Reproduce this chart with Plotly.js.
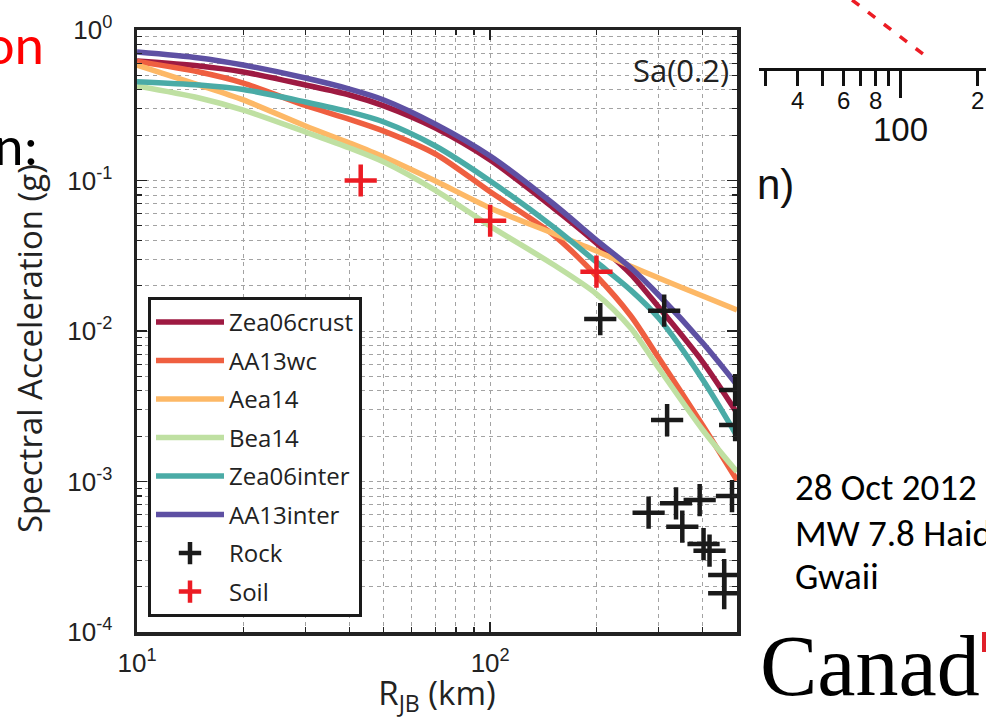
<!DOCTYPE html>
<html>
<head>
<meta charset="utf-8">
<script src="https://cdn.plot.ly/plotly-3.0.1.min.js"></script>
<style>
  html, body { margin: 0; padding: 0; background: #ffffff; }
  #chart { width: 986px; height: 719px; }
</style>
</head>
<body>
<div id="chart"></div>
<script>
// ---------------- data ----------------
const distanceKm = [10, 15, 20, 30, 40, 50, 70, 100, 150, 200, 250, 300, 400, 500];

const zea06crust = [0.622, 0.576, 0.526, 0.431, 0.370, 0.313, 0.223, 0.1369, 0.0667, 0.0384, 0.0239, 0.01443, 0.00622, 0.00285];
const aa13wc     = [0.6176, 0.526, 0.4444, 0.315, 0.255, 0.213, 0.150, 0.0841, 0.0441, 0.0232, 0.01263, 0.00663, 0.00236, 0.00102];
const aea14      = [0.585, 0.431, 0.343, 0.2302, 0.1774, 0.1432, 0.0992, 0.0657, 0.0448, 0.0340, 0.0269, 0.0225, 0.01708, 0.01379];
const bea14      = [0.4245, 0.3533, 0.2940, 0.2101, 0.1644, 0.1327, 0.0860, 0.0498, 0.02787, 0.01761, 0.01047, 0.00568, 0.00220, 0.00116];
const zea06inter = [0.4533, 0.431, 0.4025, 0.3323, 0.2852, 0.2447, 0.1695, 0.0992, 0.0498, 0.02874, 0.0187, 0.0122, 0.00475, 0.002006];
const aa13inter  = [0.714, 0.652, 0.585, 0.480, 0.405, 0.343, 0.237, 0.1455, 0.0709, 0.0402, 0.0263, 0.01735, 0.00832, 0.00438];

const rockKm = [205, 311, 317, 494, 494, 281, 336, 392, 484, 350, 402, 418, 460, 460];
const rockSa = [0.0120, 0.01364, 0.00256, 0.00405, 0.00237, 0.000621, 0.000716, 0.000753, 0.000800, 0.000501, 0.000384, 0.000347, 0.000239, 0.000181];

const soilKm = [43, 100, 200];
const soilSa = [0.100, 0.054, 0.0248];

const modelNames = ["Zea06crust", "AA13wc", "Aea14", "Bea14", "Zea06inter", "AA13inter"];
const modelColors = ["#9e1a42", "#ef5f40", "#fdb866", "#bfe0a2", "#4aaba6", "#5e50a3"];

const yTickVals = [1e-4, 1e-3, 1e-2, 1e-1, 1];
const yTickText = ["10<sup>-4</sup>", "10<sup>-3</sup>", "10<sup>-2</sup>", "10<sup>-1</sup>", "10<sup>0</sup>"];
const xTickVals = [10, 100];
const xTickText = ["10<sup>1</sup>", "10<sup>2</sup>"];

// fragment of the neighbouring chart (top right of the slide)
const otherAxisMinorTicks = [30, 40, 50, 60, 70, 80, 90, 200];
const otherAxisMajorTicks = [100];
const otherAxisLabels = ["4", "6", "8", "2"];
const otherAxisLabelPos = [40, 60, 80, 200];
const otherLineX = [65, 129];
const otherLineY = [1.0, 0.14];

// ---------------- helpers ----------------
const W = 986, H = 719;
const PX = x => x / W;
const PY = y => 1 - y / H;

const yMinor = [];
for (let d = -4; d < 0; d++) for (let m = 2; m <= 9; m++) yMinor.push(m * Math.pow(10, d));
const xMinor = [20, 30, 40, 50, 60, 70, 80, 90, 200, 300, 400];

const series = [zea06crust, aa13wc, aea14, bea14, zea06inter, aa13inter];

const traces = series.map((vals, i) => ({
  type: "scatter",
  mode: "lines",
  x: distanceKm,
  y: vals,
  name: modelNames[i],
  legendgroup: modelNames[i],
  line: { color: modelColors[i], width: 5.5, shape: "spline", smoothing: 0.8 },
  xaxis: "x", yaxis: "y"
}));

traces.push({
  type: "scatter", mode: "markers", x: rockKm, y: rockSa, name: "Rock", legendgroup: "Rock",
  marker: { symbol: "cross-thin", size: 23, color: "#1a1a1a", line: { color: "#1a1a1a", width: 4.5 } },
  cliponaxis: true
});
traces.push({
  type: "scatter", mode: "markers", x: soilKm, y: soilSa, name: "Soil", legendgroup: "Soil",
  marker: { symbol: "cross-thin", size: 23, color: "#ec1c24", line: { color: "#ec1c24", width: 4.5 } },
  cliponaxis: true
});
traces.push({
  type: "scatter", mode: "lines", x: otherLineX, y: otherLineY, xaxis: "x2", yaxis: "y2",
  showlegend: false, hoverinfo: "skip",
  line: { color: "#ec1c24", width: 3.5, dash: "9px,11px" }
});

const gridCol = "#a3a3a3";
const axisCol = "#222222";
const tickFont = { family: "Liberation Sans, Arial, sans-serif", size: 26, color: "#222" };
const slideFont = "Carlito, 'Liberation Sans Narrow', 'Liberation Sans', sans-serif";

const layout = {
  width: W, height: H,
  margin: { l: 0, r: 0, t: 0, b: 0, pad: 0 },
  paper_bgcolor: "#ffffff",
  plot_bgcolor: "#ffffff",
  showlegend: true,
  xaxis: {
    type: "log", range: [1, Math.log10(500)], domain: [PX(137), PX(737)],
    anchor: "y", automargin: false,
    tickmode: "array", tickvals: xTickVals, ticktext: xTickText,
    ticks: "inside", ticklen: 10, tickwidth: 1.5, tickcolor: axisCol,
    showline: true, linecolor: axisCol, linewidth: 3.5, mirror: "allticks",
    showgrid: true, gridcolor: gridCol, gridwidth: 1, griddash: "4px,4px",
    zeroline: false, ticklabelstandoff: 5,
    tickfont: tickFont,
    minor: { tickvals: xMinor, ticks: "inside", ticklen: 5, tickwidth: 1.2, tickcolor: axisCol,
             showgrid: true, gridcolor: gridCol, gridwidth: 1, griddash: "4px,4px" },
    title: { text: "R<sub>JB</sub> (km)", font: { family: "Open Sans, sans-serif", size: 33, color: "#222" }, standoff: 2 }
  },
  yaxis: {
    type: "log", range: [-4, 0], domain: [PY(632), PY(30)],
    anchor: "x", automargin: false,
    tickmode: "array", tickvals: yTickVals, ticktext: yTickText,
    ticks: "inside", ticklen: 10, tickwidth: 1.5, tickcolor: axisCol,
    showline: true, linecolor: axisCol, linewidth: 3.5, mirror: "allticks",
    showgrid: true, gridcolor: gridCol, gridwidth: 1, griddash: "4px,4px",
    zeroline: false, ticklabelstandoff: 16,
    tickfont: tickFont,
    minor: { tickvals: yMinor, ticks: "inside", ticklen: 5, tickwidth: 1.2, tickcolor: axisCol,
             showgrid: true, gridcolor: gridCol, gridwidth: 1, griddash: "4px,4px" }
  },
  xaxis2: {
    type: "log", domain: [PX(759), 1], range: [Math.log10(28.3), Math.log10(215)],
    anchor: "y2", automargin: false,
    showline: true, linecolor: "#111", linewidth: 3,
    tickmode: "array", tickvals: otherAxisMajorTicks, ticks: "outside", ticklen: 27, tickwidth: 3, tickcolor: "#111",
    showticklabels: false, showgrid: false, zeroline: false,
    minor: { tickvals: otherAxisMinorTicks, ticks: "outside", ticklen: 15, tickwidth: 3, tickcolor: "#111", showgrid: false }
  },
  yaxis2: { domain: [PY(68), 1], range: [0, 1], anchor: "x2", visible: false },
  legend: {
    x: PX(148), y: PY(617), xanchor: "left", yanchor: "bottom",
    bgcolor: "#ffffff", bordercolor: "#1a1a1a", borderwidth: 3,
    font: { family: "Open Sans, sans-serif", size: 24, color: "#222" },
    itemwidth: 68, traceorder: "grouped", tracegroupgap: 4.3
  },
  shapes: [
    { type: "rect", xref: "paper", yref: "paper", x0: PX(982), x1: PX(986), y0: PY(652), y1: PY(632),
      fillcolor: "#e0202a", line: { width: 0 } }
  ],
  annotations: [
    { text: "Spectral Acceleration (g)", xref: "paper", yref: "paper", x: PX(29), y: PY(349), textangle: -90,
      xanchor: "center", yanchor: "middle", showarrow: false,
      font: { family: "Open Sans, sans-serif", size: 33, color: "#222" } },
    { text: "Sa(0.2)", xref: "paper", yref: "paper", x: PX(731), y: PY(70), xanchor: "right", yanchor: "middle",
      showarrow: false, font: { family: "Open Sans, sans-serif", size: 31, color: "#222" } },
    { text: "on", xref: "paper", yref: "paper", x: PX(46), y: PY(45), xanchor: "right", yanchor: "middle",
      showarrow: false, font: { family: slideFont, size: 56, color: "#ff0000" } },
    { text: "n:", xref: "paper", yref: "paper", x: PX(40), y: PY(146), xanchor: "right", yanchor: "middle",
      showarrow: false, font: { family: slideFont, size: 56, color: "#000" } },
    { text: "n)", xref: "paper", yref: "paper", x: PX(755), y: PY(184), xanchor: "left", yanchor: "middle",
      showarrow: false, font: { family: "Liberation Sans, Arial, sans-serif", size: 42, color: "#111" } },
    { text: "100", xref: "x2", yref: "paper", x: Math.log10(100), y: PY(130), xanchor: "center", yanchor: "middle",
      showarrow: false, font: { family: "Liberation Sans, Arial, sans-serif", size: 33, color: "#111" } },
    { text: "28 Oct 2012", xref: "paper", yref: "paper", x: PX(793), y: PY(488), xanchor: "left", yanchor: "middle",
      showarrow: false, font: { family: slideFont, size: 37, color: "#000" } },
    { text: "MW 7.8 Haida", xref: "paper", yref: "paper", x: PX(793), y: PY(533), xanchor: "left", yanchor: "middle",
      showarrow: false, font: { family: slideFont, size: 37, color: "#000" } },
    { text: "Gwaii", xref: "paper", yref: "paper", x: PX(793), y: PY(576), xanchor: "left", yanchor: "middle",
      showarrow: false, font: { family: slideFont, size: 37, color: "#000" } },
    { text: "Canad", xref: "paper", yref: "paper", x: PX(758), y: PY(666), xanchor: "left", yanchor: "middle",
      showarrow: false, font: { family: "Liberation Serif, 'Times New Roman', serif", size: 86, color: "#000" } }
  ].concat(otherAxisLabels.map((t, i) => ({
    text: t, xref: "x2", yref: "paper", x: Math.log10(otherAxisLabelPos[i]), y: PY(100),
    xanchor: "center", yanchor: "middle", showarrow: false,
    font: { family: "Liberation Sans, Arial, sans-serif", size: 24, color: "#111" }
  })))
};

Plotly.newPlot("chart", traces, layout, { staticPlot: true, displayModeBar: false });
</script>
</body>
</html>
